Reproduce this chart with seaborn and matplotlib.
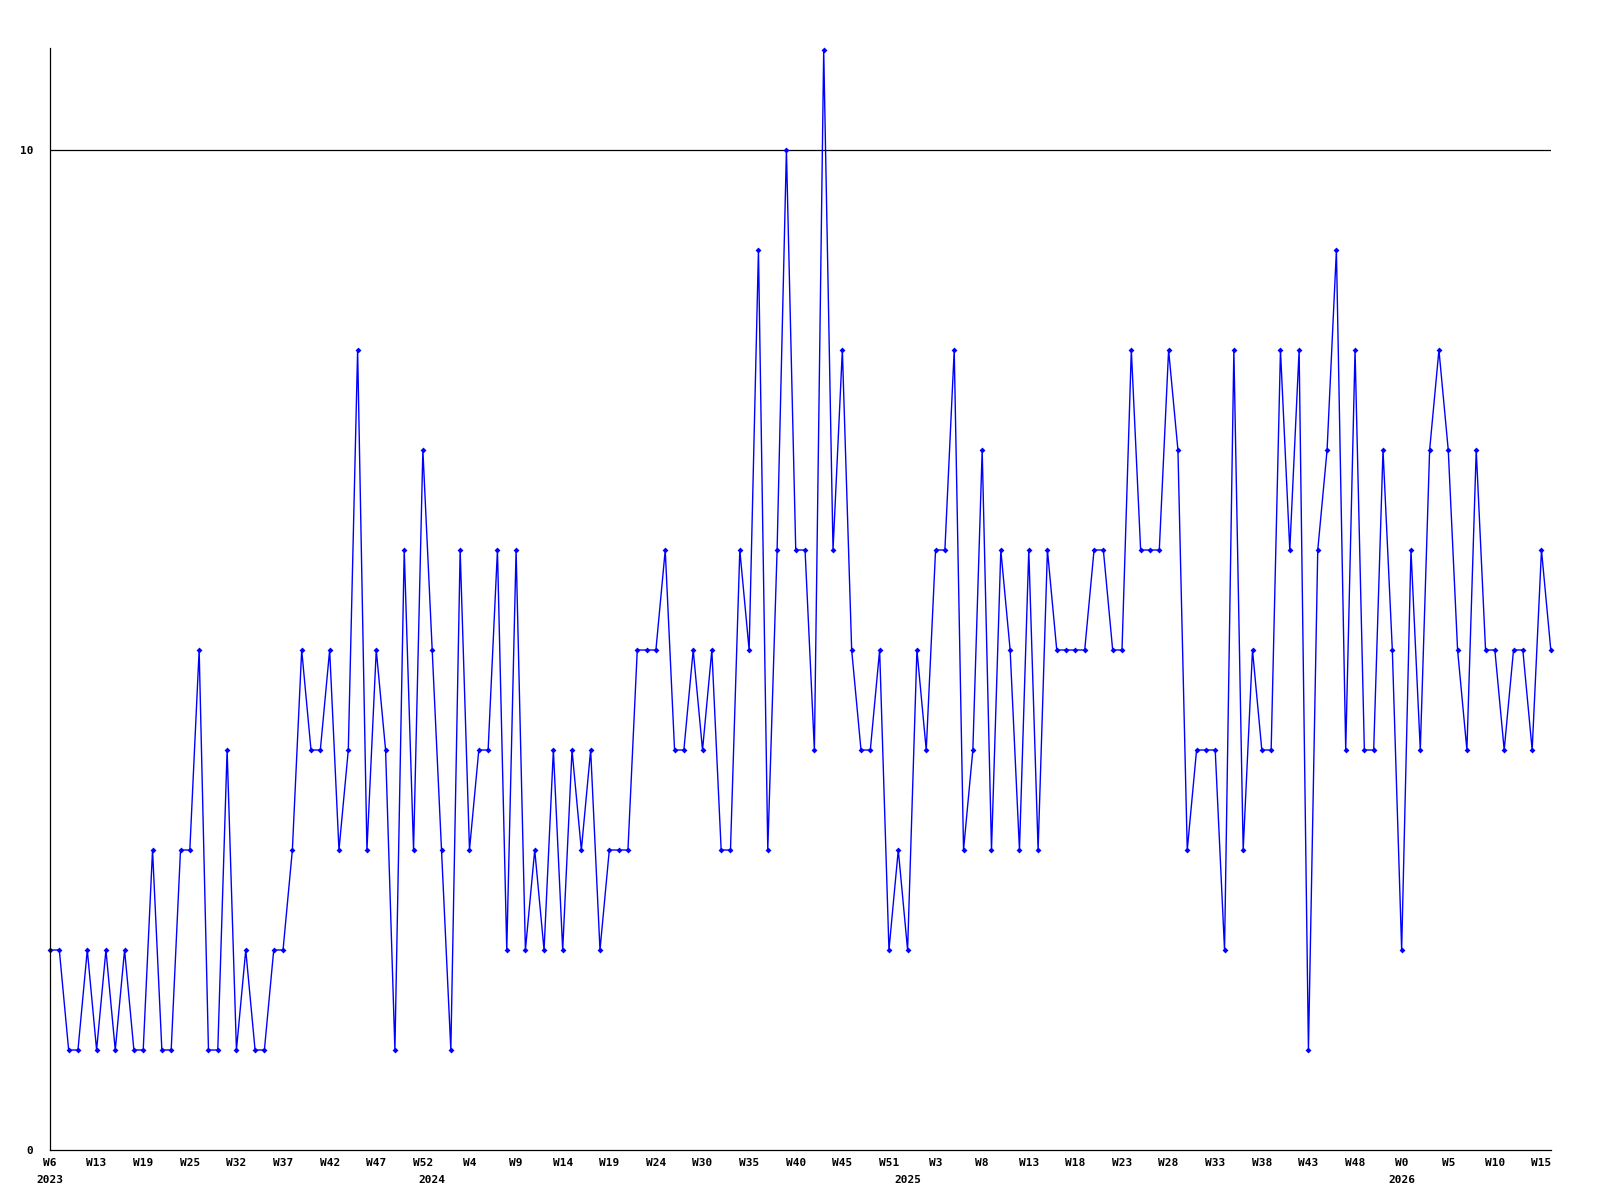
import numpy as np
import pandas as pd
import matplotlib
matplotlib.use('Agg')
import matplotlib.pyplot as plt
import seaborn as sns

# weekly counts, one value per point (W6 2023 .. W16 2026)
counts = [2, 2, 1, 1, 2, 1, 2, 1, 2, 1,
          1, 3, 1, 1, 3, 3, 5, 1, 1, 4,
          1, 2, 1, 1, 2, 2, 3, 5, 4, 4,
          5, 3, 4, 8, 3, 5, 4, 1, 6, 3,
          7, 5, 3, 1, 6, 3, 4, 4, 6, 2,
          6, 2, 3, 2, 4, 2, 4, 3, 4, 2,
          3, 3, 3, 5, 5, 5, 6, 4, 4, 5,
          4, 5, 3, 3, 6, 5, 9, 3, 6, 10,
          6, 6, 4, 11, 6, 8, 5, 4, 4, 5,
          2, 3, 2, 5, 4, 6, 6, 8, 3, 4,
          7, 3, 6, 5, 3, 6, 3, 6, 5, 5,
          5, 5, 6, 6, 5, 5, 8, 6, 6, 6,
          8, 7, 3, 4, 4, 4, 2, 8, 3, 5,
          4, 4, 8, 6, 8, 1, 6, 7, 9, 4,
          8, 4, 4, 7, 5, 2, 6, 4, 7, 8,
          7, 5, 4, 7, 5, 5, 4, 5, 5, 4,
          6, 5]

# tick labels, every 5th point
week_labels = ['W6', 'W13', 'W19', 'W25', 'W32', 'W37', 'W42', 'W47', 'W52',
               'W4', 'W9', 'W14', 'W19', 'W24', 'W30', 'W35', 'W40', 'W45',
               'W51', 'W3', 'W8', 'W13', 'W18', 'W23', 'W28', 'W33', 'W38',
               'W43', 'W48', 'W0', 'W5', 'W10', 'W15']
week_step = 5

# first point of each year
years = ['2023', '2024', '2025', '2026']
year_start = [0, 41, 92, 145]

df = pd.DataFrame({'idx': np.arange(len(counts)), 'count': counts})

sns.set_style('white')
plt.rcParams['font.family'] = ['DejaVu Sans Mono']

fig = plt.figure(figsize=(16, 12), dpi=100)
ax = fig.add_axes([0.03125, 0.04167, 0.938, 0.9183])

sns.lineplot(x='idx', y='count', data=df, ax=ax, color='#0000ff',
             linewidth=1.0, marker='D', markersize=3, markeredgewidth=0,
             clip_on=False)

ax.axhline(10, color='black', linewidth=0.9, zorder=0)

ax.set_xlim(0, len(counts) - 1)
ax.set_ylim(0, 11.02)

ax.set_xticks(np.arange(0, len(week_labels) * week_step, week_step))
ax.set_xticklabels(week_labels, fontsize=8, fontweight='bold', color='black')
ax.tick_params(axis='x', length=0, pad=6)

# year captions under the week labels
for pos, yr in zip(year_start, years):
    ax.text(pos, -0.027, yr, transform=ax.get_xaxis_transform(),
            ha='center', va='center', fontsize=8, fontweight='bold',
            color='black')

ax.set_yticks([0, 10])
ax.set_yticklabels(['0', '10'], fontsize=8, fontweight='bold', color='black')
ax.tick_params(axis='y', length=0, pad=12)

for side in ['top', 'right']:
    ax.spines[side].set_visible(False)
for side in ['left', 'bottom']:
    ax.spines[side].set_color('black')
    ax.spines[side].set_linewidth(0.9)

ax.set_xlabel('')
ax.set_ylabel('')
ax.grid(False)

plt.savefig('out.png', dpi=100, facecolor='white')
